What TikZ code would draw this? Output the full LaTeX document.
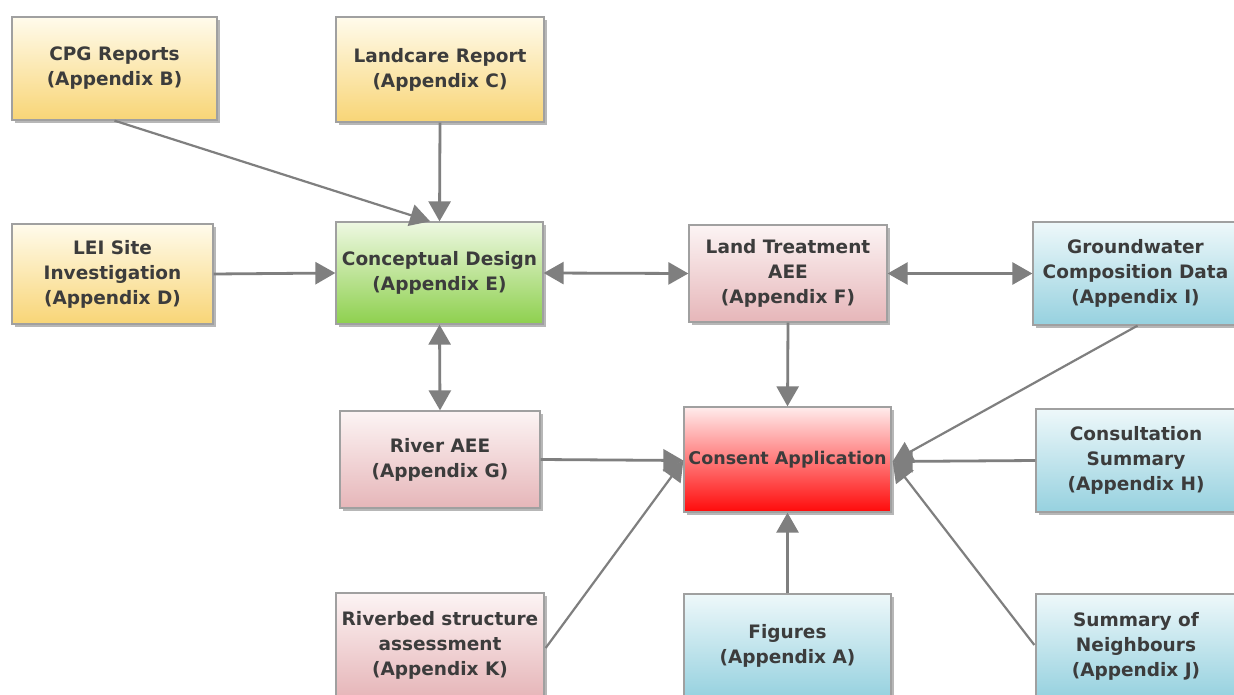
\documentclass[tikz,border=0pt]{standalone}
\usepackage{fontspec}
\setmainfont{DejaVu Sans}
\usetikzlibrary{shadows,arrows.meta,calc}
\definecolor{txt}{HTML}{3C3C3C}
\definecolor{boxborder}{HTML}{A0A0A0}
\definecolor{arrc}{HTML}{7F7F7F}
\definecolor{yelT}{HTML}{FFFBEC}
\definecolor{yelB}{HTML}{F8D576}
\definecolor{grnT}{HTML}{EEF8E2}
\definecolor{grnB}{HTML}{8ED04E}
\definecolor{pnkT}{HTML}{FCF4F4}
\definecolor{pnkB}{HTML}{E6B6B9}
\definecolor{bluT}{HTML}{EEF8FA}
\definecolor{bluB}{HTML}{96D1DF}
\definecolor{redT}{HTML}{FFECEC}
\definecolor{redB}{HTML}{FF0A0A}
\begin{document}
\begin{tikzpicture}[x=1pt,y=-1pt,
  box/.style={draw=boxborder, line width=1.3pt, align=center, text=txt,
    font=\fontsize{18.5}{25}\selectfont\bfseries, inner sep=0pt,
    drop shadow={shadow xshift=3pt, shadow yshift=-3pt, opacity=0.4, fill=black!70}},
  yel/.style={box, top color=yelT, bottom color=yelB},
  grn/.style={box, top color=grnT, bottom color=grnB},
  pnk/.style={box, top color=pnkT, bottom color=pnkB},
  blu/.style={box, top color=bluT, bottom color=bluB},
  rd/.style={box, top color=redT, bottom color=redB, font=\fontsize{17.5}{25}\selectfont\bfseries},
  tip/.tip={Triangle[length=20pt,width=22pt]},
  arr/.style={draw=arrc, line width=2.8pt, -tip},
  thin/.style={draw=arrc, line width=2.2pt, -tip},
  darr/.style={draw=arrc, line width=2.8pt, tip-tip}]
\useasboundingbox (0,0) rectangle (1234,695);
\clip (0,0) rectangle (1234,695);
\fill[white] (0,0) rectangle (1234,695);

\node[yel, minimum width=205pt, minimum height=103pt] (cpg) at (114.5,68.5) {CPG Reports\\(Appendix B)};
\node[yel, minimum width=208pt, minimum height=105pt] (landcare) at (440,69.5) {Landcare Report\\(Appendix C)};
\node[yel, minimum width=201pt, minimum height=100pt] (lei) at (112.5,274) {LEI Site\\Investigation\\(Appendix D)};
\node[grn, minimum width=207pt, minimum height=102pt] (concept) at (439.5,273) {Conceptual Design\\(Appendix E)};
\node[pnk, minimum width=198pt, minimum height=97pt] (lta) at (788,273.5) {Land Treatment\\AEE\\(Appendix F)};
\node[blu, minimum width=205pt, minimum height=103pt] (gw) at (1135.5,273.5) {Groundwater\\Composition Data\\(Appendix I)};
\node[pnk, minimum width=200pt, minimum height=97pt] (river) at (440,459.5) {River AEE\\(Appendix G)};
\node[rd, minimum width=207pt, minimum height=105pt] (consent) at (787.5,459.5) {Consent Application};
\node[blu, minimum width=200pt, minimum height=103pt] (consult) at (1136,460.5) {Consultation\\Summary\\(Appendix H)};
\node[pnk, minimum width=208pt, minimum height=104pt] (riverbed) at (440,645) {Riverbed structure\\assessment\\(Appendix K)};
\node[blu, minimum width=207pt, minimum height=104pt] (figs) at (787.5,646) {Figures\\(Appendix A)};
\node[blu, minimum width=200pt, minimum height=104pt] (neigh) at (1136,646) {Summary of\\Neighbours\\(Appendix J)};

\coordinate (ctop) at ($(concept.north west)!0.455!(concept.north east)$);
\coordinate (cR) at ($(consent.east)+(1,2)$);
\coordinate (cL) at ($(consent.west)+(0,1)$);
\coordinate (gwb) at ($(gw.south)+(2,0)$);
\coordinate (rbR) at ($(riverbed.east)+(1,3)$);
\coordinate (nL) at ($(neigh.west)+(-1,-1)$);

\draw[thin] (cpg.south) -- (ctop);
\draw[arr] (landcare.south) -- (concept.north);
\draw[arr] (lei.east) -- (concept.west);
\draw[darr] (concept.east) -- (lta.west);
\draw[darr] (lta.east) -- (gw.west);
\draw[darr] (concept.south) -- (river.north);
\draw[arr] (lta.south) -- (consent.north);
\draw[thin] (gwb) -- (cR);
\draw[arr] (consult.west) -- (cR);
\draw[thin] (nL) -- (cR);
\draw[arr] (river.east) -- (cL);
\draw[thin] (rbR) -- (cL);
\draw[arr] (figs.north) -- (consent.south);
\end{tikzpicture}
\end{document}
